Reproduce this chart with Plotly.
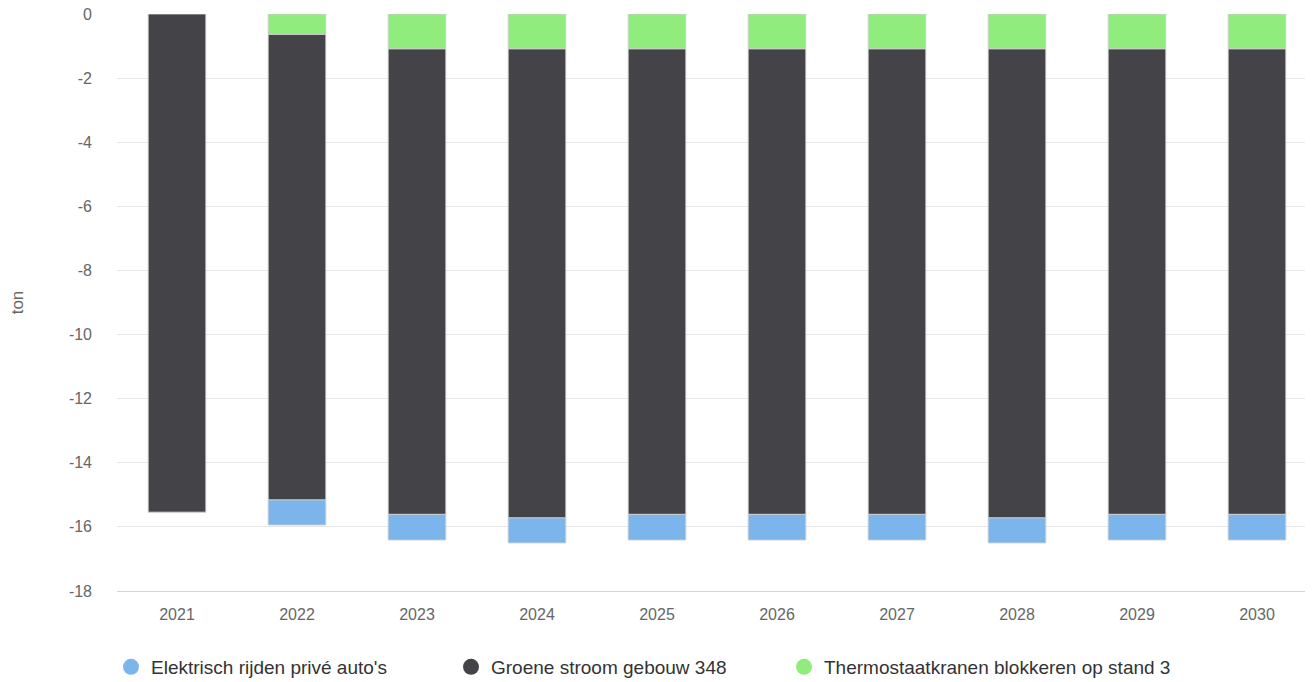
import plotly.graph_objects as go

years = ["2021", "2022", "2023", "2024", "2025", "2026", "2027", "2028", "2029", "2030"]
thermostaat = [None, -0.64, -1.09, -1.09, -1.09, -1.09, -1.09, -1.09, -1.09, -1.09]
groene_stroom = [-15.54, -14.52, -14.52, -14.63, -14.52, -14.52, -14.52, -14.63, -14.52, -14.52]
elektrisch = [None, -0.78, -0.80, -0.78, -0.80, -0.80, -0.80, -0.78, -0.80, -0.80]

y_tick_vals = [0, -2, -4, -6, -8, -10, -12, -14, -16, -18]
y_tick_text = ["0", "-2", "-4", "-6", "-8", "-10", "-12", "-14", "-16", "-18"]

names = ["Elektrisch rijden privé auto's", "Groene stroom gebouw 348", "Thermostaatkranen blokkeren op stand 3"]
colors = ["#7cb5ec", "#434348", "#90ed7d"]

# page body has an 8px margin, so the figure starts at (8, 8)
OFF = 8
W, H = 1313 - OFF, 682 - OFF
ml, mr, mt = 117 - OFF, 0, 14 - OFF
mb = H - mt - 577

fig = go.Figure()
line = dict(color="rgba(205,205,205,0.9)", width=1)
# stacking order from zero downward: green, dark, blue
fig.add_trace(go.Bar(x=years, y=thermostaat, name=names[2], marker=dict(color=colors[2], line=line),
                     width=0.48, showlegend=False))
fig.add_trace(go.Bar(x=years, y=groene_stroom, name=names[1], marker=dict(color=colors[1], line=line),
                     width=0.48, showlegend=False))
fig.add_trace(go.Bar(x=years, y=elektrisch, name=names[0], marker=dict(color=colors[0], line=line),
                     width=0.48, showlegend=False))

# legend entries with circle symbols
legend_px = [111, 451, 784]
legend_ids = ["legend", "legend2", "legend3"]
for nm, col, lid in zip(names, colors, legend_ids):
    fig.add_trace(go.Scatter(x=[None], y=[None], mode="markers", name=nm,
                             marker=dict(color=col, size=16, symbol="circle"),
                             legend=lid, showlegend=True))

pw = W - ml - mr

layout_legends = {}
for lid, px in zip(legend_ids, legend_px):
    layout_legends[lid] = dict(
        x=(px - OFF) / W, xref="container", xanchor="left",
        y=1 - (667 - OFF) / H, yref="container", yanchor="middle",
        orientation="h", font=dict(size=19, color="#333333", family="Liberation Sans, Arial, sans-serif"),
        bgcolor="rgba(0,0,0,0)", itemsizing="trace",
    )

fig.update_layout(
    width=W, height=H,
    margin=dict(l=ml, r=mr, t=mt, b=mb, autoexpand=False),
    barmode="relative",
    plot_bgcolor="white", paper_bgcolor="white",
    font=dict(family="Liberation Sans, Arial, sans-serif", color="#666666"),
    xaxis=dict(
        type="category", range=[-0.5, -0.5 + pw / 120], automargin=False,
        showgrid=False, showline=True, linecolor="#ccd6eb", linewidth=1,
        ticks="", tickfont=dict(size=16, color="#666666"), fixedrange=True,
        ticklabelstandoff=9,
    ),
    yaxis=dict(
        range=[-18, 0], tickvals=y_tick_vals, ticktext=y_tick_text, automargin=False,
        showgrid=True, gridcolor="#e6e6e6", gridwidth=1,
        zeroline=False, showline=False, ticks="",
        tickfont=dict(size=16, color="#666666"),
        ticklabelstandoff=24, ticklabeloverflow="allow",
        title=dict(text="ton", font=dict(size=17, color="#666666"), standoff=40),
    ),
    **layout_legends,
)

fig.write_html("out.html")
